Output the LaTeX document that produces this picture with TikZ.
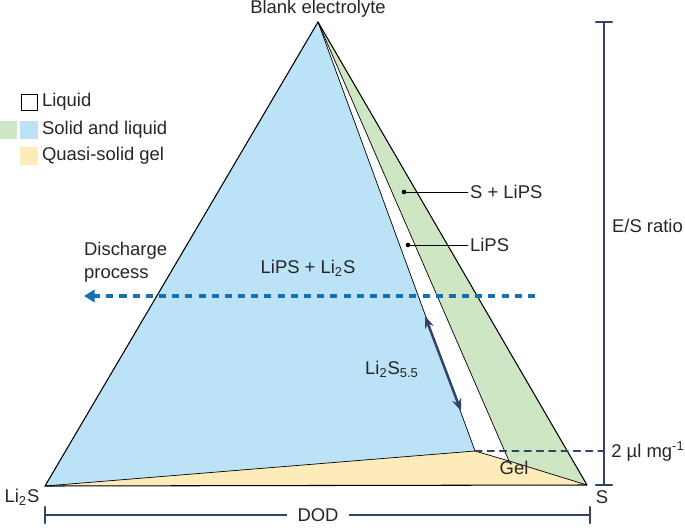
\documentclass[tikz,border=0pt]{standalone}
\usepackage{fontspec}
\setmainfont{Liberation Sans}
\usetikzlibrary{arrows.meta}
\definecolor{solidblue}{RGB}{187,226,246}
\definecolor{solidgreen}{RGB}{207,230,196}
\definecolor{gelyellow}{RGB}{253,236,186}
\definecolor{navy}{RGB}{52,66,102}
\definecolor{dashblue}{RGB}{22,112,180}
\tikzset{
  lbl/.style={font=\fontsize{10.5}{13}\selectfont, text=black!85, inner sep=1pt},
  bar/.style={navy, line width=1.4pt},
  leader/.style={black, line width=0.4pt},
  swatch/.style={minimum size=10pt, inner sep=0pt, draw=none}
}
\begin{document}
\begin{tikzpicture}[line cap=round,line join=round,x=0.02cm,y=-0.02cm]
\useasboundingbox (0,0) rectangle (685,527);

% corners
\coordinate (apex) at (318,22);
\coordinate (lis) at (45,486);
\coordinate (s) at (587,485);
\coordinate (blue) at (475,451);
\coordinate (green) at (509,461);

\fill[solidblue] (apex) -- (lis) -- (blue) -- cycle;
\fill[solidgreen] (apex) -- (green) -- (s) -- cycle;
\fill[gelyellow] (lis) -- (blue) -- (green) -- (s) -- cycle;
\draw[line width=0.4pt] (apex) -- (blue) -- (lis);
\draw[line width=0.4pt] (apex) -- (green) -- (blue);
\draw[line width=0.4pt] (green) -- (s);
\draw[line width=0.6pt] (apex) -- (lis) -- (s) -- cycle;

% labels at corners
\node[lbl] (top) at (318,9) {Blank electrolyte};
\node[lbl] (lisl) at (22,497) {Li\textsubscript{2}S};
\node[lbl] (sl) at (602,497) {S};

% legend
\node[swatch, draw=black, fill=white, minimum size=9pt] (liq) at (29,102) {};
\node[lbl, anchor=west] at (40,102) {Liquid};
\node[swatch, fill=solidgreen] (sw1) at (8,130) {};
\node[swatch, fill=solidblue] (sw2) at (29,130) {};
\node[lbl, anchor=west] at (40,130) {Solid and liquid};
\node[swatch, fill=gelyellow] (sw3) at (29,156) {};
\node[lbl, anchor=west] at (40,156) {Quasi-solid gel};

% region labels
\fill (404,192) circle (1.3pt) coordinate (d1);
\fill (408,245) circle (1.3pt) coordinate (d2);
\node[lbl, anchor=west] (slips) at (468,192) {S + LiPS};
\node[lbl, anchor=west] (lips) at (468,245) {LiPS};
\draw[leader] (d1) -- (slips.west);
\draw[leader] (d2) -- (lips.west);
\node[lbl] (mix) at (308,268) {LiPS + Li\textsubscript{2}S};
\node[lbl, align=left, anchor=west] (dis) at (82,262) {Discharge\\process};
\node[lbl] (sfive) at (392,369) {Li\textsubscript{2}S\textsubscript{5.5}};
\node[lbl] (gel) at (514,468) {Gel};

% discharge arrow
\coordinate (dstart) at (535,296);
\coordinate (dend) at (84,296);
\draw[dashblue, line width=1.8pt, line cap=butt, dash pattern=on 4pt off 3.5pt, -{Triangle[length=6pt,width=7pt]}] (dstart) -- (dend);

% Li2S5.5 range
\coordinate (r1) at (425,316);
\coordinate (r2) at (461,411);
\draw[navy, line width=1.4pt, {Stealth[length=7pt]}-{Stealth[length=7pt]}] (r1) -- (r2);

% E/S ratio bar
\coordinate (e1) at (604,22);
\coordinate (e2) at (604,485);
\draw[bar] (e1) -- (e2);
\draw[bar] (596,22) -- (612,22);
\draw[bar] (596,485) -- (612,485);
\node[lbl, anchor=west] (es) at (610,226) {E/S ratio};
\draw[navy, dash pattern=on 4pt off 3pt, line width=0.6pt] (blue) -- (604,451);
\node[lbl, anchor=west, inner sep=0pt] (two) at (611,451) {2 µl mg\textsuperscript{-1}};

% DOD bar
\draw[bar] (45,515) -- (590,515);
\draw[bar] (45,507) -- (45,523);
\draw[bar] (590,507) -- (590,523);
\node[lbl, fill=white, inner xsep=6pt] (dod) at (318,515) {DOD};
\end{tikzpicture}
\end{document}
